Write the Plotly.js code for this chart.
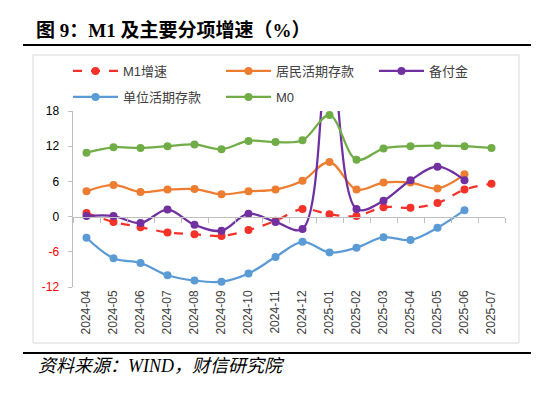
<!DOCTYPE html>
<html>
<head>
<meta charset="utf-8">
<script src="https://cdn.plot.ly/plotly-3.0.1.min.js"></script>
<style>html,body{margin:0;padding:0;background:#fff;}#chart{width:550px;height:397px;}</style>
</head>
<body>
<div id="chart"></div>
<script>
var months = ['2024-04','2024-05','2024-06','2024-07','2024-08','2024-09','2024-10','2024-11','2024-12','2025-01','2025-02','2025-03','2025-04','2025-05','2025-06','2025-07'];
var m1Growth = [0.6, -0.9, -1.8, -2.7, -3.0, -3.3, -2.3, -0.7, 1.3, 0.4, 0.1, 1.6, 1.5, 2.3, 4.6, 5.6];
var householdDemand = [4.3, 5.4, 4.2, 4.6, 4.7, 3.8, 4.3, 4.6, 6.1, 9.3, 4.6, 5.8, 5.8, 4.8, 7.2, null];
var reserveFunds = [0.1, 0.1, -1.1, 1.2, -1.4, -2.4, 0.5, -0.9, -2.1, 30.0, 1.3, 2.7, 6.2, 8.5, 6.2, null];
var corporateDemand = [-3.6, -7.1, -7.9, -10.0, -10.9, -11.1, -9.7, -6.9, -4.3, -6.1, -5.3, -3.5, -4.0, -1.9, 1.1, null];
var m0Growth = [10.9, 11.8, 11.7, 12.0, 12.3, 11.5, 12.9, 12.7, 13.0, 17.3, 9.7, 11.6, 12.0, 12.1, 12.0, 11.7];
var yTickVals = [18, 12, 6, 0, -6, -12];
var yTickText = ['18', '12', '6', '0', '<span style="color:#FF0000">-6</span>', '<span style="color:#FF0000">-12</span>'];

var cjk = 'Liberation Sans, Noto Sans CJK SC, sans-serif';
var smooth = 1.0;
function series(name, y, color, dash, legendId) {
  return {
    type: 'scatter', mode: 'lines+markers', name: name, x: months, y: y,
    line: {color: color, width: 2.25, dash: dash, shape: 'spline', smoothing: smooth},
    marker: {color: color, size: 8, symbol: 'circle'},
    connectgaps: false, legend: legendId, cliponaxis: true
  };
}
var traces = [
  series('M1增速', m1Growth, '#F5322A', 'dash', 'legend'),
  series('居民活期存款', householdDemand, '#ED7D31', 'solid', 'legend'),
  series('备付金', reserveFunds, '#7030A0', 'solid', 'legend'),
  series('单位活期存款', corporateDemand, '#5B9BD5', 'solid', 'legend2'),
  series('M0', m0Growth, '#70AD47', 'solid', 'legend2'),
  {type: 'scatter', mode: 'lines', x: months, y: months.map(function(){return 0;}), xaxis: 'x2',
   line: {width: 0, color: 'rgba(0,0,0,0)'}, showlegend: false, hoverinfo: 'skip'}
];
var px = function(v){ return (v - 73) / 432; };
var py = function(v){ return (287 - v) / 176; };
var legendCommon = {orientation: 'h', xanchor: 'left', yanchor: 'middle', entrywidth: 93, entrywidthmode: 'pixels',
  font: {family: cjk, size: 13, color: '#404040'}, bgcolor: 'rgba(0,0,0,0)', itemwidth: 45, itemclick: false};
var layout = {
  width: 550, height: 397,
  margin: {l: 73, r: 45, t: 111, b: 110},
  paper_bgcolor: '#ffffff', plot_bgcolor: '#ffffff',
  showlegend: true,
  legend: Object.assign({}, legendCommon, {x: px(68), y: py(71)}),
  legend2: Object.assign({}, legendCommon, {x: px(68), y: py(97)}),
  xaxis: {type: 'category', categoryarray: months, range: [-0.5, 15.5], showline: false, ticks: '',
    tickangle: -90, tickfont: {family: 'Liberation Sans, sans-serif', size: 12, color: '#404040'},
    showgrid: false, zeroline: false, fixedrange: true},
  xaxis2: {type: 'category', categoryarray: months, range: [-0.5, 15.5], overlaying: 'x', anchor: 'free', position: 0.4,
    showline: true, linecolor: '#BFBFBF', linewidth: 1.5, ticks: 'outside', ticklen: 5, tickcolor: '#BFBFBF', tickwidth: 1,
    tickson: 'boundaries', showticklabels: false, showgrid: false, zeroline: false, side: 'bottom'},
  yaxis: {range: [-12, 18], tickvals: yTickVals, ticktext: yTickText, showline: true, linecolor: '#BFBFBF', linewidth: 1.5,
    ticks: 'outside', ticklen: 4, tickcolor: '#BFBFBF', showgrid: false, zeroline: false,
    tickfont: {family: 'Liberation Sans, sans-serif', size: 12, color: '#000000'}, ticklabelstandoff: 6},
  shapes: [
    {type: 'rect', xref: 'paper', yref: 'paper', x0: px(33), x1: px(519), y0: py(343), y1: py(55),
     line: {color: '#D9D9D9', width: 1}, layer: 'below'},
    {type: 'line', xref: 'paper', yref: 'paper', x0: px(23), x1: px(531), y0: py(45), y1: py(45),
     line: {color: '#000000', width: 2}},
    {type: 'line', xref: 'paper', yref: 'paper', x0: px(23), x1: px(531), y0: py(353), y1: py(353),
     line: {color: '#000000', width: 2}}
  ],
  annotations: [
    {xref: 'paper', yref: 'paper', x: px(34), y: py(30), xanchor: 'left', yanchor: 'middle', showarrow: false,
     text: '<b>图 9：M1 及主要分项增速（%）</b>',
     font: {family: 'Liberation Serif, Noto Sans CJK SC, serif', size: 19, color: '#000000'}},
    {xref: 'paper', yref: 'paper', x: px(36), y: py(366), xanchor: 'left', yanchor: 'middle', showarrow: false,
     text: '资料来源：WIND，财信研究院',
     font: {family: 'Liberation Serif, Noto Sans CJK SC, serif', size: 18, color: '#000000', style: 'italic'}}
  ]
};
Plotly.newPlot('chart', traces, layout, {staticPlot: true, displayModeBar: false});
</script>
</body>
</html>
